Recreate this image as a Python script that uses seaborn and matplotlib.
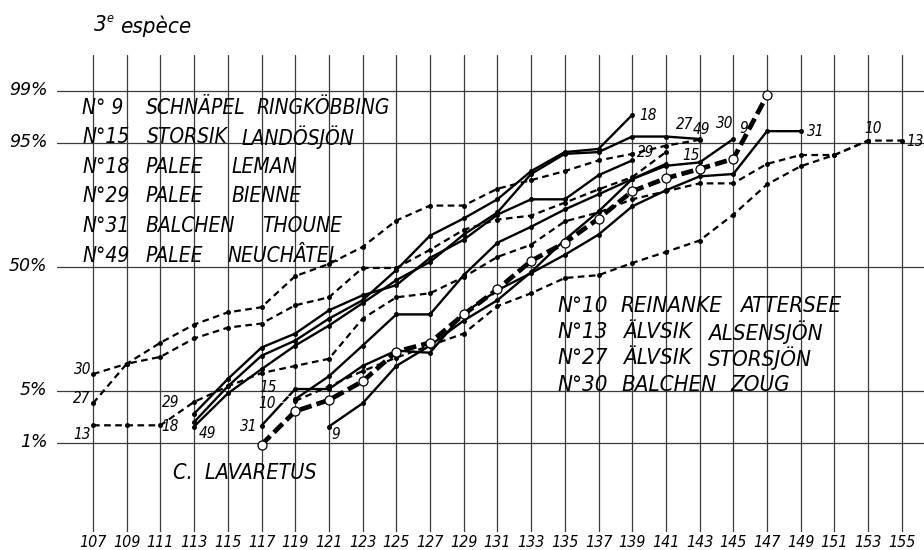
"""Cumulative frequency curves (probit paper) - 3e espece
"""

from statistics import NormalDist
import numpy as np
import matplotlib

matplotlib.use("Agg")
import matplotlib.pyplot as plt
import seaborn as sns  # type: ignore
from matplotlib import font_manager
from matplotlib.transforms import ScaledTranslation

# Values: x = class value, y = cumulative percent
x_9 = [121, 123, 125, 127, 129, 131, 133, 135, 137, 139, 141, 143, 145]
p_9 = [1.73, 3.55, 9.5, 14.9, 23.9, 33.0, 47.3, 64.1, 76.9, 87.8, 91.0, 91.7, 95.5]

x_15 = [119, 121, 123, 125, 127, 129, 131, 133, 135, 137, 139, 141]
p_15 = [4.0, 7.4, 14.9, 26.5, 26.5, 45.7, 62.6, 70.3, 77.7, 83.2, 87.8, 91.4]

x_18 = [113, 115, 117, 119, 121, 123, 125, 127, 129, 131, 133, 135, 137, 139]
p_18 = [2.0, 5.7, 12.0, 16.5, 24.7, 33.0, 48.4, 66.1, 74.0, 81.5, 89.8, 93.6, 94.1, 97.8]

x_29 = [113, 115, 117, 119, 121, 123, 125, 127, 129, 131, 133, 135, 137, 139]
p_29 = [2.6, 6.9, 14.3, 18.9, 28.3, 35.4, 40.5, 54.8, 64.1, 75.6, 81.5, 81.5, 88.8, 92.1]

x_31 = [117, 119, 121, 123, 125, 127, 129, 131, 133, 135, 137, 139, 141, 143, 145, 147, 149]
p_31 = [1.78, 5.3, 5.3, 9.5, 13.4, 12.8, 27.0, 37.9, 46.8, 56.4, 66.6, 78.9, 84.5, 88.5, 89.1, 96.4, 96.4]

x_49 = [113, 115, 117, 119, 121, 123, 125, 127, 129, 131, 133, 135, 137, 139, 141, 143]
p_49 = [1.73, 4.7, 8.8, 14.9, 21.9, 31.6, 43.1, 52.7, 66.6, 76.5, 89.1, 93.3, 93.6, 95.8, 95.8, 95.5]

x_10 = [119, 121, 123, 125, 127, 129, 131, 133, 135, 137, 139, 141, 143, 145, 147, 149, 151, 153]
p_10 = [3.8, 5.7, 8.4, 11.5, 14.9, 18.9, 30.2, 36.4, 44.2, 45.7, 52.1, 57.9, 63.7, 75.6, 86.3, 90.9, 93.1, 95.3]

x_13 = list(range(107, 156, 2))
p_13 = [1.8, 1.8, 1.8, 3.7, 5.7, 8.0, 9.5, 11.2, 24.7, 34.4, 36.4, 44.7, 55.3, 61.6,
        72.7, 76.5, 81.5, 84.2, 86.6, 86.6, 91.4, 93.1, 93.1, 95.3, 95.3]

x_27 = list(range(107, 142, 2))
p_27 = [3.55, 10.0, 11.7, 17.2, 21.1, 22.7, 30.6, 34.4, 49.5, 49.5, 59.0, 68.9,
        73.5, 75.2, 80.3, 84.8, 88.3, 93.6]

x_30 = list(range(107, 144, 2))
p_30 = [7.8, 10.0, 15.8, 22.3, 27.4, 29.7, 45.2, 51.6, 60.5, 73.1, 79.2, 79.2,
        85.0, 87.5, 89.8, 92.1, 93.3, 94.6, 95.4]

x_lav = [117, 119, 121, 123, 125, 127, 129, 131, 133, 135, 137, 139, 141, 143, 145, 147]
p_lav = [0.93, 2.8, 3.9, 6.5, 13.1, 15.8, 26.5, 38.4, 53.2, 62.6, 73.9, 84.2, 88.0, 90.3, 92.4, 98.85]

x_ticks = list(range(107, 156, 2))
y_ticks = [1, 5, 50, 95, 99]
y_tick_labels = ["1%", "5%", "50%", "95%", "99%"]

solid_series = {"9": (x_9, p_9), "15": (x_15, p_15), "18": (x_18, p_18),
                "29": (x_29, p_29), "31": (x_31, p_31), "49": (x_49, p_49)}
dashed_series = {"10": (x_10, p_10), "13": (x_13, p_13),
                 "27": (x_27, p_27), "30": (x_30, p_30)}

left_legend = [("N° 9", "SCHNÄPEL", "RINGKÖBBING"), ("N°15", "STORSIK", "LANDÖSJÖN"),
               ("N°18", "PALEE", "LEMAN"), ("N°29", "PALEE", "BIENNE"),
               ("N°31", "BALCHEN", "THOUNE"), ("N°49", "PALEE", "NEUCHÂTEL")]
right_legend = [("N°10", "REINANKE", "ATTERSEE"), ("N°13", "ÄLVSIK", "ALSENSJÖN"),
                ("N°27", "ÄLVSIK", "STORSJÖN"), ("N°30", "BALCHEN", "ZOUG")]

sns.set_style("white")
plt.rcParams["text.color"] = "black"
plt.rcParams["xtick.color"] = "black"
plt.rcParams["ytick.color"] = "black"

# hand-lettered look: prefer a narrow italic face, else shrink a regular one
narrow = None
for f in font_manager.fontManager.ttflist:
    tag = (f.name + " " + f.fname + " " + str(f.stretch)).lower()
    if ("narrow" in tag or "condensed" in tag) and f.style in ("italic", "oblique") \
            and f.weight in (400, "normal", "regular", "book"):
        narrow = f
        break
if narrow is not None:
    plt.rcParams["font.family"] = [narrow.name, "DejaVu Sans"]
    plt.rcParams["font.stretch"] = narrow.stretch
    k = 1.0
else:
    plt.rcParams["font.family"] = ["Liberation Sans", "DejaVu Sans"]
    k = 0.85

nd = NormalDist()


def to_probit(p):
    p = np.clip(np.asarray(p, dtype=float) / 100.0, 1e-9, 1 - 1e-9)
    return np.vectorize(nd.inv_cdf, otypes=[float])(p)


def from_probit(z):
    return 100.0 * np.vectorize(nd.cdf, otypes=[float])(np.asarray(z, dtype=float))


W, H = 924, 550
fig = plt.figure(figsize=(W / 100, H / 100), dpi=100)
fig.patch.set_facecolor("white")
ax = fig.add_axes([57 / W, 18 / H, 867 / W, 477 / H])
ax.set_yscale("function", functions=(to_probit, from_probit))

px_per_z = 75.5
ax.set_xlim(107 + (57 - 93) / 16.85, 107 + (924 - 93) / 16.85)
ax.set_ylim(float(from_probit((267 - 532) / px_per_z)), float(from_probit((267 - 55) / px_per_z)))

ax.set_xticks(x_ticks)
ax.set_xticklabels([str(v) for v in x_ticks], fontsize=11.5 * k, fontstyle="italic")
ax.set_yticks(y_ticks)
ax.set_yticklabels(y_tick_labels, fontsize=12.5, fontstyle="italic",
                   fontfamily="DejaVu Sans", fontstretch="normal")
ax.yaxis.set_minor_locator(matplotlib.ticker.NullLocator())
ax.tick_params(axis="x", length=0, pad=2)
ax.tick_params(axis="y", length=0, pad=7)
for lab in ax.get_yticklabels():
    lab.set_transform(lab.get_transform() + ScaledTranslation(0, 3 / 100, fig.dpi_scale_trans))
ax.grid(True, color="#3c3c3c", lw=0.9)
for s in ax.spines.values():
    s.set_visible(False)

# dashed curves
for name, (xs, ps) in dashed_series.items():
    sns.lineplot(x=xs, y=ps, ax=ax, color="black", lw=1.6, sort=False,
                 marker="o", ms=3.6, mec="black", mew=0, zorder=3)
    ax.lines[-1].set_dashes((3, 2))

# solid curves
for name, (xs, ps) in solid_series.items():
    sns.lineplot(x=xs, y=ps, ax=ax, color="black", lw=1.7, sort=False,
                 marker="o", ms=3.6, mec="black", mew=0, zorder=4)

# C. lavaretus, heavy dashes with open circles
sns.lineplot(x=x_lav, y=p_lav, ax=ax, color="black", lw=3.4, sort=False,
             marker="o", ms=6.5, mfc="white", mec="black", mew=0.9, zorder=5)
ax.lines[-1].set_dashes((2.6, 1.1))

# curve numbers at start / end of each curve
all_series = {**solid_series, **dashed_series}
label_spec = [
    ("30", 0, -10, 5, False), ("27", 0, -11, 5, False), ("13", 0, -11, -9, False),
    ("29", 0, -23, 11, True), ("18", 0, -24, -4, True), ("49", 0, 13, -7, False),
    ("31", 0, -13, -1, False), ("15", 0, -27, 12, True), ("10", 0, -28, -3, True),
    ("9", 0, 7, -8, False),
    ("18", -1, 16, -1, False), ("29", -1, 14, 8, False), ("27", -1, 19, 28, False),
    ("49", -1, 2, 9, False), ("30", -1, 25, 16, True), ("9", -1, 10, 10, False),
    ("15", -1, 25, 8, True), ("31", -1, 15, 0, False), ("10", -1, 5, 12, False),
    ("13", -1, 13, -1, False),
]
for name, idx, dx, dy, leader in label_spec:
    xs, ps = all_series[name]
    ax.annotate(name, xy=(xs[idx], ps[idx]), xytext=(dx, dy), textcoords="offset pixels",
                ha="center", va="center", fontsize=11 * k, fontstyle="italic", zorder=6,
                arrowprops=dict(arrowstyle="-", lw=0.7, shrinkA=1, shrinkB=2) if leader else None)


def fig_text(px, py, s, **kw):
    fig.text(px / W, 1 - py / H, s, va="center", fontstyle="italic", **kw)


fig_text(94, 25, "3", fontsize=16 * k)
fig_text(106, 18, "e", fontsize=9 * k)
fig_text(120, 26, "espèce", fontsize=16 * k)

left_rows = [108, 137, 167, 196, 226, 256]
left_cols = [(82, 146, 256), (82, 147, 241), (82, 145, 231), (82, 145, 231), (82, 145, 262), (82, 145, 227)]
for (a, b, c), y, cols in zip(left_legend, left_rows, left_cols):
    for s, x in zip((a, b, c), cols):
        fig_text(x, y, s, fontsize=15 * k)

right_rows = [306, 332, 358, 385]
right_cols = [(557, 620, 740), (557, 623, 708), (557, 623, 708), (557, 621, 730)]
for (a, b, c), y, cols in zip(right_legend, right_rows, right_cols):
    for s, x in zip((a, b, c), cols):
        fig_text(x, y, s, fontsize=16 * k)

fig_text(173, 473, "C.  LAVARETUS", fontsize=15.5 * k)

plt.savefig("out.png", dpi=100)
